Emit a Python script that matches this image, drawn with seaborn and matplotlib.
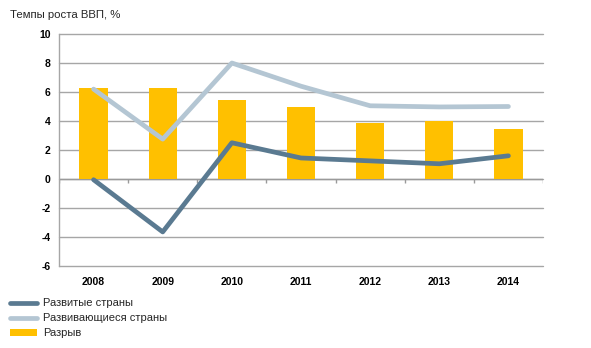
import matplotlib
matplotlib.use("Agg")
import matplotlib.pyplot as plt
import seaborn as sns
import numpy as np
import pandas as pd
from matplotlib.lines import Line2D
from matplotlib.patches import Patch

years = ["2008", "2009", "2010", "2011", "2012", "2013", "2014"]
developed = [-0.05, -3.65, 2.5, 1.45, 1.25, 1.05, 1.6]
developing = [6.2, 2.75, 8.0, 6.4, 5.05, 4.97, 5.0]
gap = [6.28, 6.3, 5.45, 4.97, 3.86, 3.97, 3.45]
yticks = [-6, -4, -2, 0, 2, 4, 6, 8, 10]

title = "Темпы роста ВВП, %"
labels = ["Развитые страны", "Развивающиеся страны", "Разрыв"]

c_dev = "#5A7A91"
c_devg = "#B4C6D3"
c_gap = "#FFC000"

sns.set_style("white")
plt.rcParams["font.family"] = ["Liberation Sans", "DejaVu Sans"]

fig = plt.figure(figsize=(5.91, 3.48), dpi=100)
ax = fig.add_axes([59/591, 1-266/348, (543-59)/591, (266-34)/348])

df = pd.DataFrame({"year": years, "gap": gap, "developed": developed, "developing": developing})

sns.barplot(data=df, x="year", y="gap", color=c_gap, width=0.41, ax=ax, saturation=1,
            linewidth=0, zorder=2)
sns.pointplot(data=df, x="year", y="developing", color=c_devg, markers="", linewidth=3.4, ax=ax, zorder=3)
sns.pointplot(data=df, x="year", y="developed", color=c_dev, markers="", linewidth=3.4, ax=ax, zorder=4)

ax.set_xlim(-0.5, 6.5)
ax.set_ylim(-6, 10)
ax.set_yticks(yticks)
ax.set_yticklabels([str(t) for t in yticks], fontsize=7.5, fontweight="bold")
ax.tick_params(axis="x", length=0, labelsize=7.5, pad=8, labelcolor="black")
ax.tick_params(axis="y", labelcolor="black")
for lab in ax.get_xticklabels():
    lab.set_fontweight("bold")
ax.tick_params(axis="y", length=0, pad=6)
ax.set_xlabel("")
ax.set_ylabel("")
for t in yticks:
    ax.axhline(t, color="#A6A6A6", lw=1.0, zorder=0, clip_on=False)
ax.axhline(0, color="#9A9A9A", lw=1.0, zorder=1)
ax.vlines(np.arange(-0.5, 7, 1), -0.28, 0, color="#9A9A9A", lw=1.0, zorder=1)
for s in ["top", "right", "bottom"]:
    ax.spines[s].set_visible(False)
ax.spines["left"].set_color("#A6A6A6")
ax.spines["left"].set_linewidth(1.0)

fig.text(10/591, 1-15/348, title, fontsize=8.2, va="center", ha="left")

handles = [
    Line2D([0], [0], color=c_dev, lw=3.4),
    Line2D([0], [0], color=c_devg, lw=3.4),
    Patch(facecolor=c_gap, edgecolor="none"),
]
fig.legend(handles, labels, loc="upper left", bbox_to_anchor=(6/591, 1-294/348),
           frameon=False, fontsize=8, handlelength=2.4, handleheight=0.7,
           handletextpad=0.5, labelspacing=0.45, borderaxespad=0)

fig.savefig("out.png", dpi=100)
